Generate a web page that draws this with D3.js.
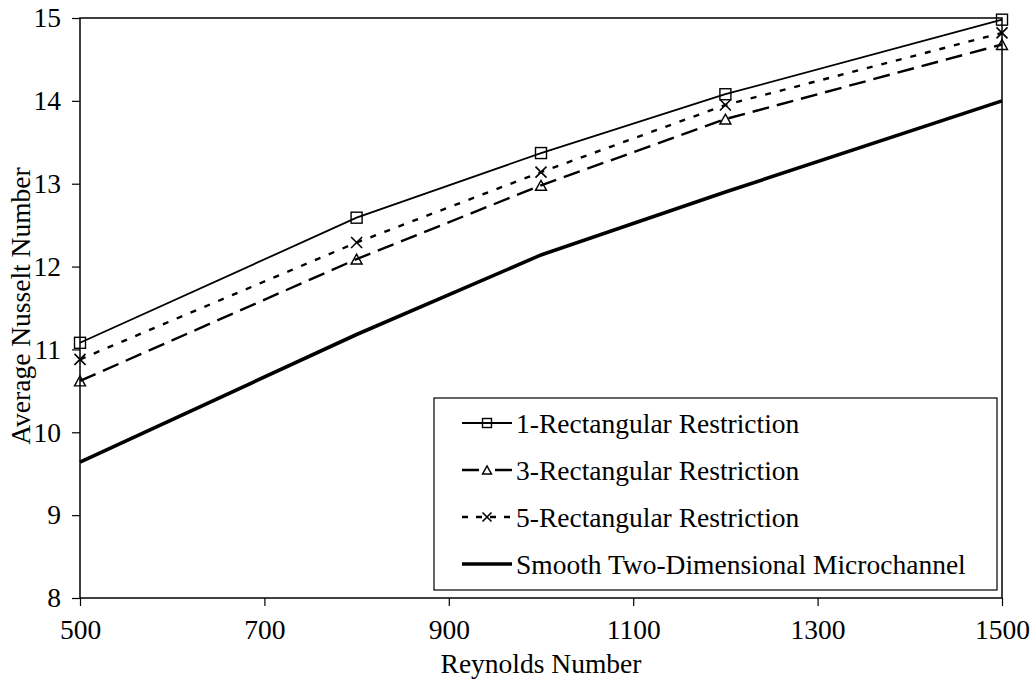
<!DOCTYPE html>
<html>
<head>
<meta charset="utf-8">
<script src="https://cdn.jsdelivr.net/npm/d3@7"></script>
<style>
  body { margin: 0; background: #fff; }
  svg text { font-family: "Liberation Serif", "DejaVu Serif", serif; fill: #000; }
</style>
</head>
<body>
<svg width="1036" height="683"></svg>
<script>
const reynolds = [500, 800, 1000, 1200, 1500];
const rect1 = [11.08, 12.59, 13.37, 14.08, 14.98];
const rect3 = [10.62, 12.09, 12.98, 13.78, 14.68];
const rect5 = [10.88, 12.29, 13.14, 13.95, 14.82];
const smooth = [9.64, 11.18, 12.14, 12.9, 14.0];
const xTicks = [500, 700, 900, 1100, 1300, 1500];
const yTicks = [8, 9, 10, 11, 12, 13, 14, 15];
const seriesNames = ["1-Rectangular Restriction", "3-Rectangular Restriction",
  "5-Rectangular Restriction", "Smooth Two-Dimensional Microchannel"];

const plotL = 80, plotR = 1002, plotT = 18, plotB = 598;
const FONT = "'Liberation Serif', 'DejaVu Serif', serif";
const FS = 27.5;

const svg = d3.select("svg");

const x = d3.scaleLinear().domain([500, 1500]).range([plotL, plotR]);
const y = d3.scaleLinear().domain([8, 15]).range([plotB, plotT]);

// axes
const yAxis = svg.append("g")
  .attr("transform", `translate(${plotL},0)`)
  .call(d3.axisLeft(y).tickValues(yTicks).tickFormat(d3.format("d"))
    .tickSize(8).tickSizeOuter(0).tickPadding(11));
const xAxis = svg.append("g")
  .attr("transform", `translate(0,${plotB})`)
  .call(d3.axisBottom(x).tickValues(xTicks).tickFormat(d3.format("d"))
    .tickSize(8).tickSizeOuter(0).tickPadding(13));
[yAxis, xAxis].forEach(a => {
  a.attr("font-family", FONT).attr("font-size", FS);
  a.select(".domain").remove();
  a.selectAll("line").attr("stroke", "#000").attr("stroke-width", 1.2);
  a.selectAll("text").attr("fill", "#000");
});

// frame
svg.append("rect")
  .attr("x", plotL).attr("y", plotT)
  .attr("width", plotR - plotL).attr("height", plotB - plotT)
  .attr("fill", "none").attr("stroke", "#000").attr("stroke-width", 1.5);

const series = [
  { name: seriesNames[0], values: rect1, width: 1.8, dash: null, legDash: null, marker: "square" },
  { name: seriesNames[1], values: rect3, width: 2.4, dash: "17,8", legDash: "17,16", marker: "triangle" },
  { name: seriesNames[2], values: rect5, width: 2.4, dash: "6,9", legDash: "6,8", marker: "cross" },
  { name: seriesNames[3], values: smooth, width: 3.6, dash: null, legDash: null, marker: null }
];

const line = d3.line().x(d => x(d[0])).y(d => y(d[1]));

function drawMarker(g, type, cx, cy, s) {
  if (type === "square") {
    g.append("rect").attr("x", cx - s / 2).attr("y", cy - s / 2)
      .attr("width", s).attr("height", s)
      .attr("fill", "none").attr("stroke", "#000").attr("stroke-width", 1.4);
  } else if (type === "triangle") {
    const h = s * 0.9;
    g.append("path")
      .attr("d", `M${cx},${cy - h / 2}L${cx + s / 2},${cy + h / 2}L${cx - s / 2},${cy + h / 2}Z`)
      .attr("fill", "none").attr("stroke", "#000").attr("stroke-width", 1.4);
  } else if (type === "cross") {
    const r = s / 2;
    g.append("path")
      .attr("d", `M${cx - r},${cy - r}L${cx + r},${cy + r}M${cx - r},${cy + r}L${cx + r},${cy - r}`)
      .attr("fill", "none").attr("stroke", "#000").attr("stroke-width", 1.6);
  }
}

series.forEach(s => {
  const pts = reynolds.map((r, i) => [r, s.values[i]]);
  svg.append("path")
    .attr("d", line(pts))
    .attr("fill", "none").attr("stroke", "#000")
    .attr("stroke-width", s.width)
    .attr("stroke-dasharray", s.dash);
  if (s.marker) {
    const g = svg.append("g");
    pts.forEach(p => drawMarker(g, s.marker, x(p[0]), y(p[1]), 11));
  }
});

// legend
const lg = svg.append("g");
lg.append("rect")
  .attr("x", 434).attr("y", 398).attr("width", 563).attr("height", 192)
  .attr("fill", "#fff").attr("stroke", "#000").attr("stroke-width", 1.2);
series.forEach((s, i) => {
  const ly = 423 + i * 47;
  lg.append("line")
    .attr("x1", 462).attr("x2", 512).attr("y1", ly).attr("y2", ly)
    .attr("stroke", "#000").attr("stroke-width", s.width)
    .attr("stroke-dasharray", s.legDash);
  if (s.marker) drawMarker(lg, s.marker, 487, ly, 9);
  lg.append("text")
    .attr("x", 516).attr("y", ly).attr("dy", "0.35em")
    .attr("font-family", FONT).attr("font-size", FS)
    .text(s.name);
});

// axis titles
svg.append("text")
  .attr("x", (plotL + plotR) / 2).attr("y", 673)
  .attr("text-anchor", "middle")
  .attr("font-family", FONT).attr("font-size", FS)
  .text("Reynolds Number");
svg.append("text")
  .attr("transform", `translate(30,${(plotT + plotB) / 2 - 2}) rotate(-90)`)
  .attr("text-anchor", "middle")
  .attr("font-family", FONT).attr("font-size", FS)
  .text("Average Nusselt Number");
</script>
</body>
</html>
